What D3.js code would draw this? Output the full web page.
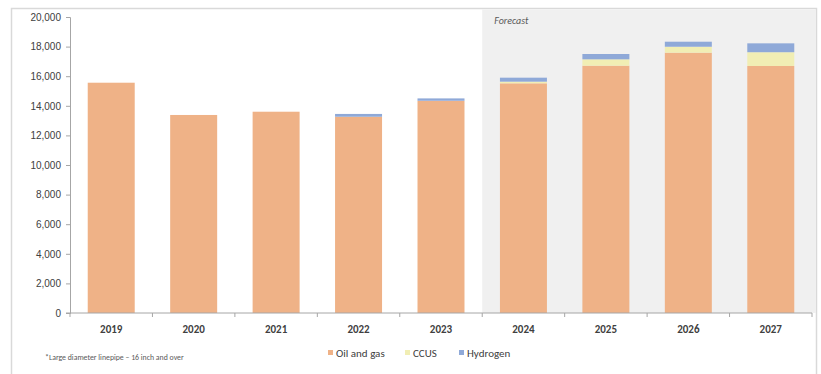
<!DOCTYPE html>
<html>
<head>
<meta charset="utf-8">
<script src="https://cdn.jsdelivr.net/npm/d3@7"></script>
<style>
  html, body { margin: 0; padding: 0; background: #fff; }
  svg { display: block; font-family: Calibri, Carlito, "Liberation Sans", Arial, sans-serif; }
</style>
</head>
<body>
<svg id="chart" width="821" height="374"></svg>
<script>
// Large diameter linepipe demand by end use
const years = ["2019", "2020", "2021", "2022", "2023", "2024", "2025", "2026", "2027"];
const oilAndGas = [15560, 13380, 13600, 13260, 14340, 15520, 16710, 17590, 16690];
const ccus      = [0, 0, 0, 0, 0, 110, 430, 400, 930];
const hydrogen  = [0, 0, 0, 190, 160, 270, 360, 340, 600];
const yTicks = [0, 2000, 4000, 6000, 8000, 10000, 12000, 14000, 16000, 18000, 20000];
const forecastStart = "2024";
const seriesNames = ["Oil and gas", "CCUS", "Hydrogen"];
const seriesColors = ["#EFB287", "#F1EEB4", "#8FA9D8"];

const svg = d3.select("#chart");
const W = 821, H = 374;
const m = { left: 70, right: 9, top: 17, bottom: 61 };
const plotW = W - m.left - m.right;
const plotH = H - m.top - m.bottom;

// Outer frame
svg.append("rect")
  .attr("x", 11.5).attr("y", 8.5)
  .attr("width", 805).attr("height", 370)
  .attr("fill", "#fff").attr("stroke", "#D9D9D9").attr("stroke-width", 1.5);

const x = d3.scaleBand().domain(years).range([m.left, m.left + plotW]).paddingInner(0.43).paddingOuter(0.215);
const y = d3.scaleLinear().domain([0, 20000]).range([m.top + plotH, m.top]);

// Forecast shading
const step = x.step();
const fx = x(forecastStart) - (step - x.bandwidth()) / 2;
svg.append("rect")
  .attr("x", fx).attr("y", 9.5)
  .attr("width", 816 - fx).attr("height", y(0) - 9.5)
  .attr("fill", "#F0F0F0");
svg.append("text")
  .attr("x", fx + 12).attr("y", 24)
  .attr("font-size", 10).attr("font-style", "italic").attr("fill", "#595959")
  .text("Forecast");

// Stacked bars
const rows = years.map((yr, i) => ({ year: yr, "Oil and gas": oilAndGas[i], "CCUS": ccus[i], "Hydrogen": hydrogen[i] }));
const stack = d3.stack().keys(seriesNames)(rows);
svg.append("g").selectAll("g").data(stack).join("g")
  .attr("fill", (d, i) => seriesColors[i])
  .selectAll("rect").data(d => d).join("rect")
  .attr("x", d => x(d.data.year))
  .attr("y", d => y(d[1]))
  .attr("width", x.bandwidth())
  .attr("height", d => Math.max(0, y(d[0]) - y(d[1])));

// Y axis
const yAxis = svg.append("g")
  .attr("transform", `translate(${m.left},0)`)
  .call(d3.axisLeft(y).tickValues(yTicks).tickSize(4).tickFormat(d3.format(",")));
yAxis.select(".domain").attr("stroke", "#A6A6A6");
yAxis.selectAll(".tick line").attr("stroke", "#A6A6A6");
yAxis.selectAll("text").attr("font-size", 10).attr("fill", "#404040").attr("x", -9);

// X axis with tick marks between categories
const xg = svg.append("g").attr("transform", `translate(0,${y(0)})`);
xg.append("line")
  .attr("x1", m.left - 4).attr("x2", m.left + plotW)
  .attr("stroke", "#A6A6A6");
const bounds = d3.range(years.length + 1).map(i => m.left + i * step);
xg.selectAll(".xt").data(bounds).join("line")
  .attr("class", "xt")
  .attr("x1", d => d).attr("x2", d => d)
  .attr("y1", 0).attr("y2", 4)
  .attr("stroke", "#A6A6A6");
xg.selectAll(".xl").data(years).join("text")
  .attr("class", "xl")
  .attr("x", d => x(d) + x.bandwidth() / 2)
  .attr("y", 20)
  .attr("text-anchor", "middle")
  .attr("font-size", 11).attr("font-weight", "bold").attr("fill", "#404040")
  .text(d => d);

// Footnote
svg.append("text")
  .attr("x", 45).attr("y", 360)
  .attr("font-size", 7.8).attr("fill", "#595959")
  .text("*Large diameter linepipe \u2013 16 inch and over");

// Legend
const legendX = [328, 405, 459];
const lg = svg.append("g").selectAll("g").data(seriesNames).join("g")
  .attr("transform", (d, i) => `translate(${legendX[i]},357)`);
lg.append("rect").attr("x", 0).attr("y", -7).attr("width", 5).attr("height", 5)
  .attr("fill", (d, i) => seriesColors[i]);
lg.append("text").attr("x", 8).attr("y", 0)
  .attr("font-size", 11).attr("fill", "#404040")
  .text(d => d);
</script>
</body>
</html>
